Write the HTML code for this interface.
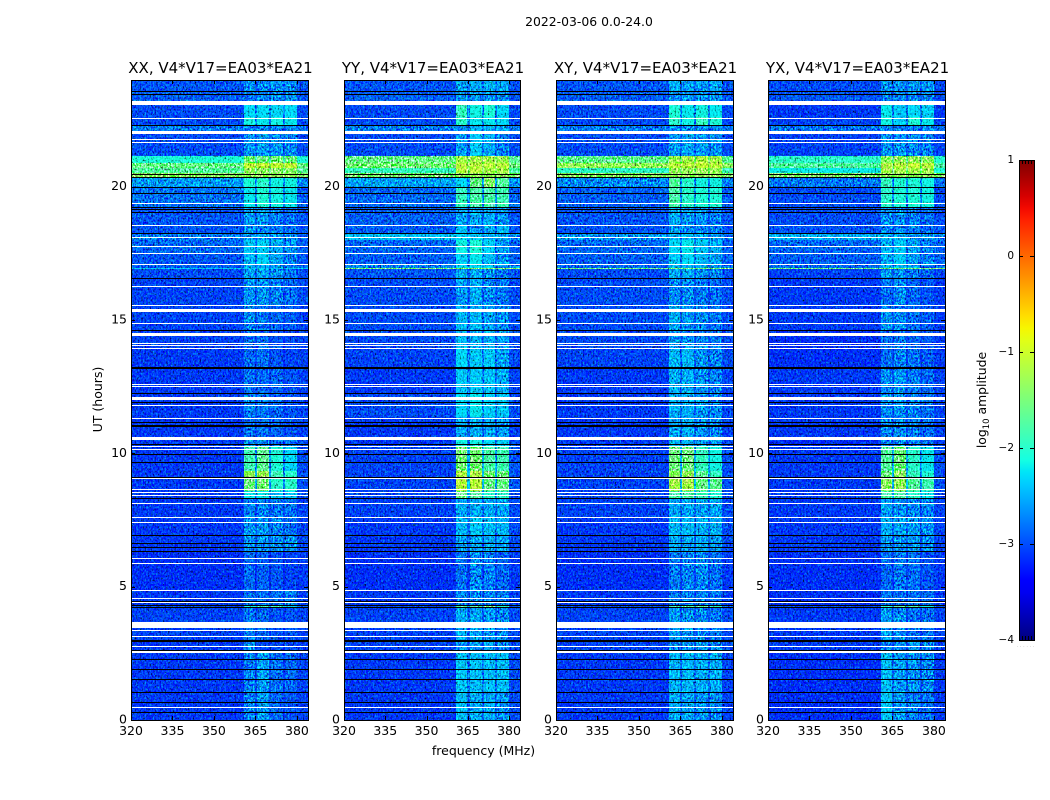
<!DOCTYPE html>
<html lang="en">
<head>
<meta charset="utf-8">
<title>2022-03-06 0.0-24.0 amplitude waterfall</title>
<style>
html,body{margin:0;padding:0;background:#fff;}
svg{display:block;}
text{font-family:"DejaVu Sans","Liberation Sans",sans-serif;fill:#000;}
.tick{font-size:12.5px;}
.ttl{font-size:15px;}
</style>
</head>
<body>
<svg id="fig" xmlns="http://www.w3.org/2000/svg" width="1050" height="800" viewBox="0 0 1050 800">
  <defs>
    <filter id="grain" x="0" y="0" width="100%" height="100%" color-interpolation-filters="sRGB">
      <feTurbulence type="fractalNoise" baseFrequency="0.6 0.45" numOctaves="2" seed="4"/>
      <feColorMatrix type="matrix" values="2.6 0 0 0 -0.8  2.6 0 0 0 -0.8  2.6 0 0 0 -0.8  0 0 0 0 1"/>
    </filter>
    <filter id="grainAdd" x="0" y="0" width="100%" height="100%" color-interpolation-filters="sRGB">
      <feTurbulence type="fractalNoise" baseFrequency="0.6 0.45" numOctaves="2" seed="17"/>
      <feColorMatrix type="matrix" values="0 0 0 0 0  1.3 0 0 0 -0.57  0 0 0 0 0  0 0 0 0 1"/>
    </filter>
    <filter id="grainDark" x="0" y="0" width="100%" height="100%" color-interpolation-filters="sRGB">
      <feTurbulence type="fractalNoise" baseFrequency="0.6 0.45" numOctaves="2" seed="29"/>
      <feColorMatrix type="matrix" values="3 0 0 0 -0.3  3 0 0 0 -0.3  3 0 0 0 -0.3  0 0 0 0 1"/>
    </filter>
    <linearGradient id="cbarGradient" x1="0" y1="1" x2="0" y2="0"></linearGradient>
  </defs>
  <text x="589" y="26" text-anchor="middle" style="font-size:12.4px">2022-03-06 0.0-24.0</text>
  <text x="483.5" y="755" text-anchor="middle" class="tick">frequency (MHz)</text>
  <text transform="translate(102,399.5) rotate(-90)" text-anchor="middle" class="tick">UT (hours)</text>
  <text transform="translate(986,400) rotate(-90)" text-anchor="middle" style="font-size:12.4px">log<tspan dy="3" font-size="8.5">10</tspan><tspan dy="-3"> amplitude</tspan></text>
</svg>
<script>
// ---- chart data (frequency in MHz, time in UT hours, values in log10 amplitude) ----
const panelTitles = ["XX, V4*V17=EA03*EA21", "YY, V4*V17=EA03*EA21", "XY, V4*V17=EA03*EA21", "YX, V4*V17=EA03*EA21"];
const xTickValues = [320, 335, 350, 365, 380];
const yTickValues = [0, 5, 10, 15, 20];
const colorbarTicks = [-4, -3, -2, -1, 0, 1];
const freqEdges = [320, 360.7, 364.85, 365.7, 370, 370.8, 375, 375.8, 379.9, 384];
const timeEdges = [0,1.05,2.55,3,4.2,4.3,4.85,6.3,6.95,7.6,8.3,8.6,9.05,9.35,10.25,10.6,11.35,12.25,13.2,13.95,14.6,15.55,16.55,16.9,16.95,17.1,17.5,18,18.25,18.55,19.2,20,20.35,20.5,20.7,20.9,21.15,22,22.3,22.6,23.2,23.6,24];
const flaggedBands = [[23.06,23.21],[21.98,22.09],[15.30,15.41],[14.40,14.51],[12.00,12.11],[10.50,10.61],[3.45,3.68],[2.51,2.59]];
const flaggedLines = [22.56,21.78,21.68,19.38,18.58,18.10,17.76,17.53,17.11,16.26,15.58,14.88,14.15,14.05,13.95,12.60,12.51,11.81,11.34,10.26,10.15,9.06,8.65,8.55,8.44,8.13,7.62,7.42,6.09,5.88,4.86,4.56,4.41,3.38,3.14,2.78,0.47];
const blackLines = [23.59,23.46,22.30,20.49,20.36,20.00,19.75,19.22,19.16,19.04,18.25,16.56,14.61,13.23,13.19,12.25,11.91,11.19,11.08,11.03,10.34,9.98,9.69,9.11,8.33,6.93,6.63,6.48,6.33,4.48,4.33,4.24,3.00,2.96,2.64,2.28,1.90,1.53,1.04,0.66,0.29];

const xxValues = [
[-3.2,-2.6,-2.8,-2.45,-2.7,-2.75,-2.85,-2.85,-3.15],
[-3.2,-2.6,-2.85,-2.45,-2.8,-2.7,-2.9,-2.75,-3.15],
[-3.2,-2.5,-2.9,-2.9,-3,-2.9,-3,-2.9,-3.2],
[-3.15,-2.65,-2.85,-2.75,-2.9,-2.85,-2.95,-2.85,-3.15],
[-3.1,-2,-2.3,-1.8,-2.3,-1.8,-2.3,-2.1,-3],
[-3.2,-2.7,-2.8,-2.7,-2.8,-2.7,-2.85,-2.6,-3.15],
[-3.25,-2.75,-3,-2.8,-3,-2.85,-3,-2.95,-3.2],
[-3.2,-2.5,-2.7,-2.5,-2.7,-2.5,-2.7,-2.5,-3.1],
[-3.2,-2.5,-2.7,-2.5,-2.7,-2.6,-2.8,-2.7,-3.15],
[-3.2,-2.6,-2.8,-2.6,-2.8,-2.65,-2.8,-2.7,-3.15],
[-3.2,-2.05,-2.5,-2.05,-2.5,-2.2,-2.6,-2.2,-3.1],
[-3.2,-1.55,-2.3,-1.5,-2.3,-1.9,-2.5,-1.9,-3.1],
[-3.2,-1.3,-2.2,-1.25,-2.3,-1.8,-2.4,-1.9,-3.1],
[-3.2,-1.8,-2.4,-1.65,-2.4,-1.95,-2.5,-2.1,-3.1],
[-3.2,-2.5,-2.7,-2.6,-2.8,-2.7,-2.8,-2.7,-3.1],
[-3.2,-2.7,-2.8,-2.7,-2.85,-2.75,-2.9,-2.85,-3.15],
[-3.2,-2.6,-2.8,-2.65,-2.8,-2.75,-2.9,-2.85,-3.15],
[-3.2,-2.7,-2.85,-2.75,-2.9,-2.75,-2.9,-2.85,-3.15],
[-3.2,-2.75,-2.85,-2.7,-2.9,-2.85,-3,-2.95,-3.15],
[-3.15,-2.7,-2.85,-2.7,-2.9,-2.85,-3,-2.9,-3.15],
[-3.15,-2.55,-2.8,-2.65,-2.85,-2.75,-2.9,-2.8,-3.15],
[-3.15,-2.5,-2.75,-2.5,-2.75,-2.6,-2.8,-2.7,-3.1],
[-3.1,-2.4,-2.7,-2.4,-2.7,-2.5,-2.7,-2.7,-3.1],
[-2.4,-2.2,-2.3,-2.2,-2.3,-2.2,-2.3,-2.2,-2.3],
[-3,-2.35,-2.6,-2.35,-2.6,-2.45,-2.7,-2.6,-3],
[-3.05,-2.3,-2.6,-2.15,-2.6,-2.4,-2.7,-2.6,-3.05],
[-2.95,-2.2,-2.55,-2.15,-2.6,-2.35,-2.7,-2.5,-3],
[-2.85,-2.45,-2.6,-2.4,-2.6,-2.45,-2.7,-2.55,-2.95],
[-3.05,-2.5,-2.7,-2.55,-2.7,-2.6,-2.8,-2.7,-3.05],
[-3.05,-2.45,-2.7,-2.45,-2.7,-2.6,-2.8,-2.7,-3.05],
[-2.9,-2.05,-2.5,-1.95,-2.5,-2,-2.5,-2.05,-3],
[-2.65,-1.95,-2.4,-1.9,-2.4,-2,-2.5,-2,-2.75],
[-1.35,-1.3,-1.35,-1.3,-1.35,-1.3,-1.35,-1.3,-1.4],
[-1.75,-1.3,-1.6,-1.35,-1.6,-1.4,-1.6,-1.4,-1.7],
[-1.6,-1.05,-1.3,-1.05,-1.3,-1.05,-1.3,-1.05,-1.6],
[-2.1,-1.5,-1.9,-1.55,-1.9,-1.5,-1.9,-1.55,-2.1],
[-3.1,-2.5,-2.7,-2.45,-2.7,-2.5,-2.7,-2.55,-3.1],
[-2.85,-2.6,-2.7,-2.6,-2.7,-2.6,-2.7,-2.6,-2.9],
[-3.1,-2,-2.5,-2.05,-2.5,-2,-2.5,-2.05,-3.1],
[-3.1,-2.1,-2.5,-2.1,-2.5,-2.1,-2.5,-2.1,-3.1],
[-3,-2.6,-2.75,-2.6,-2.75,-2.55,-2.75,-2.5,-3.05],
[-3.05,-2.55,-2.7,-2.55,-2.7,-2.5,-2.7,-2.55,-3.05]
];
const yyValues = [
[-3.2,-2.25,-2.6,-2.35,-2.7,-2.35,-2.7,-2.5,-3.1],
[-3.2,-2.2,-2.6,-2.25,-2.6,-2.25,-2.6,-2.25,-3.1],
[-3.15,-2.45,-2.75,-2.5,-2.8,-2.4,-2.8,-2.6,-3.1],
[-3.15,-2.35,-2.7,-2.4,-2.75,-2.45,-2.8,-2.55,-3.1],
[-3.1,-1.7,-2.3,-1.7,-2.3,-1.5,-2.3,-1.9,-3],
[-3.2,-2.6,-2.8,-2.55,-2.8,-2.6,-2.8,-2.65,-3.15],
[-3.25,-2.7,-2.9,-2.55,-2.85,-2.6,-2.85,-2.75,-3.2],
[-3.2,-2.4,-2.7,-2.4,-2.7,-2.35,-2.7,-2.4,-3.1],
[-3.2,-2.3,-2.6,-2.2,-2.6,-2.25,-2.6,-2.3,-3.1],
[-3.15,-2.35,-2.65,-2.35,-2.65,-2.35,-2.65,-2.4,-3.1],
[-3.15,-1.6,-2.2,-1.7,-2.3,-1.9,-2.4,-1.9,-3.1],
[-3.15,-1.1,-2.1,-1.1,-2.1,-1.6,-2.3,-1.6,-3.05],
[-3.15,-1.15,-2.1,-1.15,-2.1,-1.5,-2.3,-1.55,-3.05],
[-3.15,-1.5,-2.2,-1.5,-2.2,-1.75,-2.4,-1.8,-3.05],
[-3.2,-2,-2.5,-2,-2.5,-2.1,-2.6,-2.15,-3.1],
[-3.2,-2.35,-2.7,-2.35,-2.7,-2.35,-2.7,-2.45,-3.15],
[-3.1,-2.1,-2.5,-2.05,-2.5,-2.15,-2.6,-2.2,-3.1],
[-3.2,-2.2,-2.55,-2.2,-2.55,-2.25,-2.6,-2.35,-3.15],
[-3.15,-2.1,-2.55,-2.2,-2.6,-2.2,-2.6,-2.4,-3.1],
[-3.1,-2.25,-2.6,-2.35,-2.7,-2.35,-2.7,-2.5,-3.1],
[-3.1,-2.3,-2.6,-2.3,-2.65,-2.4,-2.7,-2.5,-3.1],
[-3.1,-2.45,-2.7,-2.35,-2.7,-2.55,-2.7,-2.65,-3.1],
[-3.05,-2.35,-2.65,-2.35,-2.7,-2.5,-2.7,-2.65,-3.05],
[-1.5,-1.4,-1.5,-1.4,-1.5,-1.4,-1.5,-1.4,-1.4],
[-2.8,-2.15,-2.5,-2.1,-2.5,-2.2,-2.5,-2.4,-2.7],
[-3,-2.15,-2.5,-2.05,-2.5,-2.25,-2.6,-2.5,-3],
[-2.95,-2,-2.4,-1.95,-2.4,-2.15,-2.6,-2.45,-3],
[-2.45,-2.15,-2.3,-2.2,-2.3,-2.3,-2.4,-2.4,-2.7],
[-3,-2.2,-2.6,-2.5,-2.7,-2.4,-2.7,-2.25,-3.05],
[-3,-2.4,-2.6,-2.4,-2.6,-2.35,-2.6,-2.5,-3.05],
[-2.95,-1.85,-2.4,-1.75,-2.4,-1.75,-2.4,-1.8,-2.95],
[-2.6,-2.1,-2.4,-1.6,-2.4,-1.4,-2.3,-1.7,-2.7],
[-1.45,-1.3,-1.4,-1.3,-1.4,-1.3,-1.4,-1.3,-1.45],
[-1.95,-1.1,-1.4,-1.1,-1.4,-1.2,-1.4,-1.2,-1.8],
[-1.5,-1.1,-1.3,-1.1,-1.3,-1.1,-1.3,-1.1,-1.55],
[-1.6,-1.2,-1.4,-1.2,-1.4,-1.2,-1.4,-1.25,-1.7],
[-3.1,-2.45,-2.7,-2.2,-2.6,-2.35,-2.7,-2.6,-3.1],
[-2.8,-2.5,-2.6,-2.3,-2.5,-2.3,-2.5,-2.45,-2.85],
[-3.1,-1.9,-2.5,-2.05,-2.5,-2.05,-2.5,-2.1,-3.1],
[-3.1,-1.85,-2.5,-2,-2.5,-1.95,-2.5,-2.1,-3.1],
[-3,-2.45,-2.7,-2.5,-2.7,-2.45,-2.7,-2.5,-3.05],
[-3.05,-2.4,-2.6,-2.35,-2.6,-2.3,-2.6,-2.4,-3.05]
];
const xyValues = [
[-3.2,-2.35,-2.65,-2.4,-2.7,-2.5,-2.75,-2.55,-3.15],
[-3.2,-2.3,-2.65,-2.3,-2.65,-2.35,-2.65,-2.35,-3.15],
[-3.15,-2.55,-2.8,-2.5,-2.8,-2.45,-2.8,-2.55,-3.1],
[-3.15,-2.45,-2.75,-2.5,-2.8,-2.55,-2.8,-2.65,-3.1],
[-3.1,-1.8,-2.3,-1.7,-2.3,-1.7,-2.3,-1.9,-3],
[-3.2,-2.65,-2.8,-2.6,-2.8,-2.6,-2.8,-2.65,-3.15],
[-3.25,-2.65,-2.85,-2.6,-2.85,-2.55,-2.85,-2.7,-3.2],
[-3.2,-2.35,-2.65,-2.4,-2.7,-2.35,-2.7,-2.45,-3.1],
[-3.2,-2.3,-2.6,-2.3,-2.6,-2.35,-2.65,-2.35,-3.1],
[-3.15,-2.4,-2.65,-2.4,-2.65,-2.4,-2.65,-2.4,-3.1],
[-3.15,-1.75,-2.3,-1.75,-2.3,-1.85,-2.4,-1.95,-3.1],
[-3.15,-1.2,-2.2,-1.2,-2.2,-1.6,-2.3,-1.65,-3.1],
[-3.15,-1.35,-2.2,-1.3,-2.2,-1.65,-2.3,-1.85,-3.1],
[-3.15,-1.55,-2.3,-1.55,-2.3,-1.85,-2.4,-2,-3.1],
[-3.2,-2.3,-2.6,-2.35,-2.65,-2.4,-2.7,-2.45,-3.15],
[-3.2,-2.4,-2.7,-2.35,-2.7,-2.5,-2.75,-2.55,-3.15],
[-3.2,-2.35,-2.65,-2.35,-2.7,-2.45,-2.75,-2.55,-3.15],
[-3.2,-2.35,-2.65,-2.35,-2.7,-2.5,-2.75,-2.6,-3.15],
[-3.15,-2.3,-2.7,-2.3,-2.7,-2.5,-2.75,-2.6,-3.1],
[-3.1,-2.45,-2.7,-2.5,-2.75,-2.6,-2.8,-2.65,-3.1],
[-3.1,-2.35,-2.7,-2.45,-2.75,-2.55,-2.8,-2.65,-3.1],
[-3.1,-2.55,-2.8,-2.55,-2.8,-2.65,-2.85,-2.7,-3.1],
[-3.1,-2.35,-2.7,-2.35,-2.7,-2.5,-2.75,-2.6,-3.1],
[-1.6,-1.5,-1.6,-1.5,-1.6,-1.5,-1.6,-1.5,-1.4],
[-2.95,-2.3,-2.6,-2.3,-2.6,-2.35,-2.6,-2.45,-2.9],
[-3,-2.2,-2.55,-2.1,-2.55,-2.3,-2.6,-2.4,-3],
[-2.95,-2.1,-2.5,-2.05,-2.5,-2.2,-2.6,-2.35,-3],
[-2.7,-2.3,-2.5,-2.3,-2.5,-2.35,-2.6,-2.45,-2.85],
[-3.05,-2.45,-2.65,-2.5,-2.7,-2.55,-2.75,-2.6,-3.05],
[-3.05,-2.35,-2.65,-2.45,-2.7,-2.5,-2.75,-2.6,-3.05],
[-3,-1.75,-2.4,-1.9,-2.4,-1.95,-2.45,-1.95,-3],
[-2.75,-1.7,-2.35,-1.9,-2.4,-2,-2.45,-2,-2.8],
[-1.35,-1.3,-1.35,-1.3,-1.35,-1.3,-1.35,-1.3,-1.4],
[-2,-1.3,-1.5,-1.3,-1.5,-1.3,-1.5,-1.3,-1.9],
[-1.3,-1.1,-1.25,-1.1,-1.25,-1.05,-1.25,-1.1,-1.35],
[-1.65,-1.25,-1.5,-1.2,-1.5,-1.15,-1.5,-1.2,-1.7],
[-3.1,-2.45,-2.7,-2.4,-2.7,-2.45,-2.7,-2.5,-3.1],
[-2.85,-2.5,-2.65,-2.55,-2.65,-2.55,-2.65,-2.6,-2.9],
[-3.1,-1.9,-2.5,-2,-2.5,-1.85,-2.5,-1.95,-3.1],
[-3.1,-1.95,-2.5,-2.05,-2.5,-2,-2.5,-2.05,-3.1],
[-3,-2.45,-2.7,-2.5,-2.7,-2.5,-2.7,-2.5,-3.05],
[-3.05,-2.35,-2.65,-2.4,-2.65,-2.45,-2.65,-2.4,-3.05]
];
const yxValues = [
[-3.25,-2.2,-2.7,-2.45,-2.75,-2.6,-2.8,-2.7,-3.2],
[-3.25,-2.25,-2.7,-2.45,-2.75,-2.5,-2.8,-2.55,-3.2],
[-3.2,-2.6,-2.8,-2.6,-2.85,-2.5,-2.85,-2.6,-3.15],
[-3.2,-2.45,-2.75,-2.55,-2.85,-2.7,-2.9,-2.7,-3.15],
[-3.1,-1.9,-2.3,-1.7,-2.3,-1.75,-2.3,-2,-3],
[-3.25,-2.7,-2.85,-2.7,-2.85,-2.7,-2.85,-2.75,-3.2],
[-3.25,-2.75,-2.9,-2.65,-2.9,-2.7,-2.9,-2.85,-3.2],
[-3.2,-2.45,-2.75,-2.5,-2.8,-2.45,-2.8,-2.55,-3.15],
[-3.2,-2.35,-2.7,-2.4,-2.7,-2.45,-2.75,-2.5,-3.15],
[-3.2,-2.4,-2.7,-2.5,-2.75,-2.55,-2.8,-2.6,-3.15],
[-3.2,-1.75,-2.3,-1.75,-2.3,-1.9,-2.4,-2.05,-3.15],
[-3.2,-1.35,-2.2,-1.3,-2.2,-1.7,-2.4,-1.8,-3.1],
[-3.2,-1.55,-2.2,-1.35,-2.2,-1.85,-2.4,-1.95,-3.1],
[-3.2,-1.7,-2.3,-1.55,-2.3,-1.9,-2.4,-2.05,-3.1],
[-3.25,-2.55,-2.75,-2.55,-2.8,-2.6,-2.8,-2.7,-3.2],
[-3.2,-2.55,-2.75,-2.55,-2.8,-2.6,-2.8,-2.7,-3.15],
[-3.2,-2.55,-2.75,-2.5,-2.8,-2.6,-2.8,-2.7,-3.15],
[-3.2,-2.55,-2.75,-2.5,-2.8,-2.65,-2.85,-2.75,-3.15],
[-3.25,-2.7,-2.85,-2.6,-2.85,-2.7,-2.9,-2.8,-3.2],
[-3.25,-2.7,-2.85,-2.65,-2.85,-2.75,-2.9,-2.85,-3.2],
[-3.2,-2.5,-2.75,-2.55,-2.8,-2.7,-2.85,-2.8,-3.2],
[-3.2,-2.7,-2.85,-2.55,-2.8,-2.75,-2.9,-2.85,-3.2],
[-3.15,-2.45,-2.75,-2.5,-2.75,-2.65,-2.85,-2.75,-3.15],
[-1.6,-1.5,-1.6,-1.5,-1.6,-1.5,-1.6,-1.5,-1.4],
[-2.95,-2.35,-2.6,-2.3,-2.6,-2.5,-2.65,-2.6,-2.9],
[-3,-2.35,-2.6,-2.2,-2.6,-2.45,-2.7,-2.6,-3],
[-2.95,-2.3,-2.6,-2.2,-2.6,-2.45,-2.7,-2.6,-3],
[-2.55,-2.35,-2.5,-2.35,-2.5,-2.45,-2.6,-2.5,-2.75],
[-3.05,-2.55,-2.75,-2.55,-2.75,-2.65,-2.8,-2.7,-3.05],
[-3.1,-2.5,-2.7,-2.55,-2.75,-2.6,-2.8,-2.7,-3.1],
[-3.1,-1.9,-2.5,-1.95,-2.5,-1.95,-2.5,-2,-3.1],
[-2.85,-1.85,-2.4,-1.95,-2.4,-1.95,-2.45,-2,-2.9],
[-1.4,-1.3,-1.4,-1.3,-1.4,-1.3,-1.4,-1.3,-1.4],
[-2.2,-1.2,-1.6,-1.2,-1.6,-1.2,-1.6,-1.25,-2.1],
[-1.75,-1.15,-1.4,-1.1,-1.4,-1.05,-1.4,-1.1,-1.8],
[-2,-1.35,-1.7,-1.3,-1.7,-1.3,-1.7,-1.35,-2.05],
[-3.15,-2.5,-2.75,-2.5,-2.75,-2.55,-2.75,-2.6,-3.15],
[-2.85,-2.55,-2.7,-2.6,-2.7,-2.6,-2.7,-2.6,-2.9],
[-3.15,-2,-2.6,-2.15,-2.6,-1.95,-2.6,-2.05,-3.15],
[-3.2,-2.05,-2.6,-2.2,-2.6,-2.1,-2.6,-2.15,-3.2],
[-3.05,-2.55,-2.75,-2.6,-2.75,-2.55,-2.75,-2.55,-3.1],
[-3.1,-2.5,-2.7,-2.5,-2.7,-2.45,-2.7,-2.5,-3.1]
];
const panelValues = [xxValues, yyValues, xyValues, yxValues];

// ---- layout and colour calibration ----
const panelLefts = [131, 344, 556, 768];
const panelRights = [308, 520, 733, 945];
const plotTop = 80, plotBottom = 720;
const gapColumns = [2, 4, 6];
const bandColumns = [1, 3, 5, 7];
const gapDepth = 0.3;
const bandDepth = 0.2;
const cbar = {x: 1019, w: 15, top: 160, bottom: 640};
const svg = document.getElementById('fig');
const NS = 'http://www.w3.org/2000/svg';

function xScale(freq, p) { return panelLefts[p] + (freq - 320) / 64 * (panelRights[p] - panelLefts[p]); }
function yScale(hour) { return plotBottom - hour / 24 * (plotBottom - plotTop); }
function cbarScale(v) { return cbar.bottom - (v + 4) / 5 * (cbar.bottom - cbar.top); }

function interp(t, pts) {
  for (let i = 1; i < pts.length; i++) {
    if (t <= pts[i][0]) {
      const a = pts[i - 1], b = pts[i];
      return a[1] + (b[1] - a[1]) * (t - a[0]) / (b[0] - a[0]);
    }
  }
  return pts[pts.length - 1][1];
}
function jet(v) {
  const t = Math.max(0, Math.min(1, (v + 4) / 5));
  const r = interp(t, [[0,0],[0.35,0],[0.66,1],[0.89,1],[1,0.5]]);
  const g = interp(t, [[0,0],[0.125,0],[0.375,1],[0.64,1],[0.91,0],[1,0]]);
  const b = interp(t, [[0,0.5],[0.11,1],[0.34,1],[0.65,0],[1,0]]);
  return 'rgb(' + Math.round(r * 255) + ',' + Math.round(g * 255) + ',' + Math.round(b * 255) + ')';
}
function calibrated(v, c, bright) {
  if (bright) return v;
  if (gapColumns.includes(c)) return v - gapDepth;
  if (bandColumns.includes(c)) return v - bandDepth * Math.max(0, Math.min(1, (-1.6 - v) / 0.5));
  return v;
}
function mk(tag, attrs, parent) {
  const el = document.createElementNS(NS, tag);
  for (const k in attrs) el.setAttribute(k, attrs[k]);
  (parent || svg).appendChild(el);
  return el;
}

function drawPanel(p) {
  const plotX = panelLefts[p], plotW = panelRights[p] - panelLefts[p];
  const values = panelValues[p];
  const g = mk('g', {'shape-rendering': 'crispEdges'});
  
  

  for (let r = 0; r < timeEdges.length - 1; r++) {
    const y0 = Math.round(yScale(timeEdges[r + 1]));
    const y1 = Math.round(yScale(timeEdges[r]));
    const brightRow = values[r][0] > -2.3;
    for (let c = 0; c < freqEdges.length - 1; c++) {
      const x0 = Math.round(xScale(freqEdges[c], p));
      const x1 = Math.round(xScale(freqEdges[c + 1], p));
      const cell = mk('rect', {x: x0, y: y0, width: x1 - x0, height: y1 - y0, fill: jet(calibrated(values[r][c], c, brightRow))}, g);
      
      
    }
  }

  const grain = mk('rect', {x: plotX, y: plotTop, width: plotW, height: plotBottom - plotTop, fill: '#000', filter: 'url(#grain)', style: 'mix-blend-mode:overlay'}, g);
  
  
  const grainAdd = mk('rect', {x: plotX, y: plotTop, width: plotW, height: plotBottom - plotTop, fill: '#000', filter: 'url(#grainAdd)', style: 'mix-blend-mode:screen'}, g);
  
  
  const grainDark = mk('rect', {x: plotX, y: plotTop, width: plotW, height: plotBottom - plotTop, fill: '#000', filter: 'url(#grainDark)', style: 'mix-blend-mode:multiply'}, g);
  
  

  flaggedBands.forEach(function (b) {
    const y0 = Math.round(yScale(b[1])), y1 = Math.round(yScale(b[0]));
    const el = mk('rect', {x: plotX, y: y0, width: plotW, height: y1 - y0, fill: '#fff'}, g);
    
    
  });
  flaggedLines.forEach(function (h) {
    const el = mk('rect', {x: plotX, y: Math.round(yScale(h)), width: plotW, height: 1, fill: '#fff'}, g);
    
    
  });
  blackLines.forEach(function (h) {
    const el = mk('rect', {x: plotX, y: Math.round(yScale(h)), width: plotW, height: 1, fill: '#000'}, g);
    
    
  });

  const frame = mk('rect', {x: plotX + 0.5, y: plotTop + 0.5, width: plotW, height: plotBottom - plotTop, fill: 'none', stroke: '#000', 'stroke-width': 1}, g);
  
  

  xTickValues.forEach(function (v) {
    const x = Math.round(xScale(v, p)) + 0.5;
    const t1 = mk('line', {x1: x, x2: x, y1: plotBottom, y2: plotBottom - 4, stroke: '#000'}, g);
    
    
    const t2 = mk('line', {x1: x, x2: x, y1: plotTop, y2: plotTop + 4, stroke: '#000'}, g);
    
    
    const lab = mk('text', {x: xScale(v, p), y: 735, 'text-anchor': 'middle', class: 'tick'});
    
    
    lab.textContent = String(v);
  });
  yTickValues.forEach(function (v) {
    const y = Math.round(yScale(v)) + 0.5;
    const t1 = mk('line', {x1: plotX, x2: plotX + 4, y1: y, y2: y, stroke: '#000'}, g);
    
    
    const t2 = mk('line', {x1: plotX + plotW, x2: plotX + plotW - 4, y1: y, y2: y, stroke: '#000'}, g);
    
    
    const lab = mk('text', {x: plotX - 4, y: yScale(v) + 3.5, 'text-anchor': 'end', class: 'tick'});
    
    
    lab.textContent = String(v);
  });

  const title = mk('text', {x: plotX + plotW / 2 + 1, y: 73, 'text-anchor': 'middle', class: 'ttl'});
  
  
  title.textContent = panelTitles[p];
}

function drawColorbar() {
  const grad = document.getElementById('cbarGradient');
  for (let i = 0; i <= 40; i++) {
    mk('stop', {offset: (i / 40), 'stop-color': jet(-4 + 5 * i / 40)}, grad);
  }
  const g = mk('g', {'shape-rendering': 'crispEdges'});
  
  
  const bar = mk('rect', {x: cbar.x, y: cbar.top, width: cbar.w, height: cbar.bottom - cbar.top, fill: 'url(#cbarGradient)'}, g);
  
  
  const frame = mk('rect', {x: cbar.x + 0.5, y: cbar.top + 0.5, width: cbar.w, height: cbar.bottom - cbar.top, fill: 'none', stroke: '#000'}, g);
  
  

  colorbarTicks.forEach(function (v) {
    const y = Math.round(cbarScale(v)) + 0.5;
    if (v > -4 && v < 1) {
      const a = mk('line', {x1: cbar.x, x2: cbar.x + 4, y1: y, y2: y, stroke: '#000'}, g);
      
      
      const b = mk('line', {x1: cbar.x + cbar.w, x2: cbar.x + cbar.w - 4, y1: y, y2: y, stroke: '#000'}, g);
      
      
    }
    const lab = mk('text', {x: cbar.x - 5, y: cbarScale(v) + 3, 'text-anchor': 'end', style: 'font-size:10.5px'});
    
    
    lab.textContent = String(v).replace('-', '\u2212');
  });
  for (let i = 1; i < 5; i++) {
    const x = Math.round(cbar.x + cbar.w * i / 5) + 0.5;
    const top = mk('line', {x1: x, x2: x, y1: cbar.top, y2: cbar.top + 4, stroke: '#000'}, g);
    
    
    const bot = mk('line', {x1: x, x2: x, y1: cbar.bottom, y2: cbar.bottom - 4, stroke: '#000'}, g);
    
    
  }
  const dots = mk('text', {x: cbar.x + cbar.w / 2, y: 647, 'text-anchor': 'middle', style: 'font-size:4px;letter-spacing:2px;fill:#777'});
  
  
  dots.textContent = '......';
}

for (let p = 0; p < panelLefts.length; p++) drawPanel(p);
drawColorbar();
</script>
</body>
</html>
